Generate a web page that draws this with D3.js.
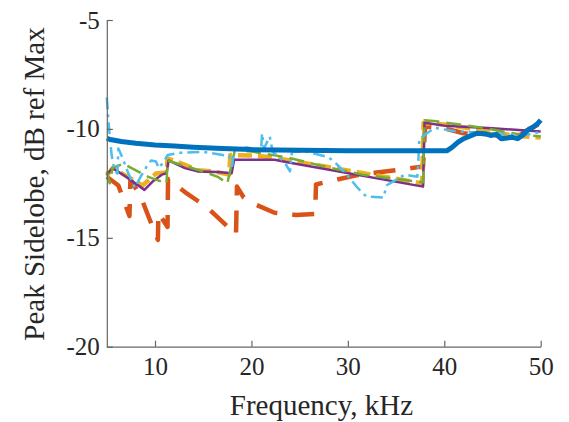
<!DOCTYPE html>
<html>
<head>
<meta charset="utf-8">
<script src="https://cdn.jsdelivr.net/npm/d3@7"></script>
<style>
  body { margin: 0; background: #fff; }
</style>
</head>
<body>
<svg width="569" height="422"></svg>
<script>
const svg = d3.select('svg')
const serif = "'Liberation Serif', 'Times New Roman', Times, 'DejaVu Serif', serif"

// tick values
const xTicks = [10, 20, 30, 40, 50]
const yTicks = [-5, -10, -15, -20]

// series: [frequency kHz, peak sidelobe dB]
const blueData = [[5,-10.43],[5.5,-10.5],[6.5,-10.58],[8,-10.66],[10,-10.74],[12,-10.79],[14,-10.84],[17,-10.9],[20,-10.95],[25,-10.98],[30,-11.0],[40.3,-11.0],[40.8,-10.85],[41.4,-10.62],[42,-10.45],[42.7,-10.32],[43.4,-10.2],[44.2,-10.22],[44.8,-10.3],[45.4,-10.25],[45.9,-10.45],[46.5,-10.42],[47,-10.38],[47.6,-10.45],[48.1,-10.3],[48.6,-10.08],[49.2,-9.92],[49.7,-9.75],[50,-9.6]]
const orangeData = [[5,-12.2],[6.2,-12.6],[7.35,-14.0],[7.45,-12.3],[8.6,-13.2],[9.3,-14.0],[10.3,-15.1],[10.35,-13.85],[11.3,-14.5],[11.35,-12.3],[13.1,-12.9],[15.4,-13.6],[18.4,-14.85],[18.5,-12.65],[19.2,-13.15],[20.3,-13.45],[22.4,-13.85],[24.6,-13.95],[26.6,-13.9],[26.7,-12.55],[28.3,-12.38],[31,-12.12],[33,-12.0],[35,-11.9],[37.8,-11.72],[38.0,-9.9],[39.8,-9.95],[42,-10.2],[44.5,-10.25],[46.5,-10.35],[47.8,-10.3],[48.8,-10.0],[50,-9.75]]
const yellowData = [[5,-12.15],[5.7,-11.75],[6.4,-12.0],[8.7,-12.6],[10.1,-12.05],[11.2,-12.0],[11.3,-11.35],[13.1,-11.65],[14.5,-11.9],[16,-11.95],[17.7,-12.1],[17.8,-11.2],[20,-11.22],[22,-11.3],[24,-11.45],[37.7,-12.5],[37.85,-9.72],[40,-9.8],[44.5,-10.1],[47,-10.3],[50,-10.4]]
const purpleData = [[5,-12.1],[5.6,-11.8],[7,-12.2],[8.9,-12.8],[9.8,-12.4],[10.7,-12.1],[11.2,-12.04],[11.4,-11.45],[13.1,-11.8],[14.5,-11.96],[16.5,-11.98],[17.95,-12.04],[18.2,-11.42],[22.4,-11.42],[24,-11.55],[37.8,-12.65],[37.95,-9.72],[40,-9.85],[45,-9.97],[50,-10.12]]
const greenData = [[5,-11.95],[5.3,-12.5],[5.6,-11.8],[6.7,-11.6],[9.3,-12.2],[11.2,-12.5],[11.3,-11.45],[15.3,-12.0],[16.5,-12.2],[17.5,-12.5],[18.3,-10.95],[20.2,-11.05],[23.6,-11.3],[27.8,-11.75],[31.5,-12.1],[37.8,-12.45],[37.95,-9.6],[39.2,-9.65],[44,-9.95],[48.2,-10.28],[50,-10.35]]
const cyanData = [[5,-8.55],[5.15,-9.5],[5.3,-10.3],[5.5,-11.2],[5.8,-11.9],[6.1,-12.05],[6.2,-10.9],[6.6,-11.3],[7.2,-12.0],[7.9,-12.7],[8.5,-12.2],[9.1,-11.75],[9.6,-11.45],[10.1,-11.5],[10.4,-11.8],[10.9,-11.5],[11.3,-11.2],[12.5,-11.1],[15,-11.05],[17.7,-11.25],[18.0,-11.7],[18.2,-11.0],[19.5,-10.85],[21.0,-11.0],[21.1,-10.2],[21.3,-10.9],[21.9,-10.35],[22.2,-11.05],[23.4,-11.5],[24.0,-11.95],[24.2,-11.05],[25.8,-11.05],[28,-11.3],[28.8,-11.6],[29.7,-12.0],[31,-12.7],[31.9,-13.1],[33.7,-13.15],[34,-12.6],[35.9,-12.1],[37.2,-12.2],[37.3,-11.6],[37.4,-10.5],[38.2,-10.2],[39,-9.95],[41,-10.1],[45,-10.2],[48,-10.3],[50,-10.15]]

const series = [
  { data: orangeData, color: '#D95319', width: 4.5, dash: '22,15' },
  { data: yellowData, color: '#EDB120', width: 4.5, dash: '14,6' },
  { data: purpleData, color: '#7E2F8E', width: 2.5, dash: null },
  { data: greenData, color: '#77AC30', width: 2.5, dash: '15,7' },
  { data: cyanData, color: '#4DBEEE', width: 2.5, dash: '12,5,3,5' },
  { data: blueData, color: '#0072BD', width: 5, dash: null }
]

const x = d3.scaleLinear().domain([5, 50]).range([106.8, 540.7])
const y = d3.scaleLinear().domain([-20, -5]).range([346.7, 20])

const line = d3.line().x(d => x(d[0])).y(d => y(d[1]))

svg.append('g')
  .selectAll('path')
  .data(series)
  .enter()
  .append('path')
    .attr('d', d => line(d.data))
    .attr('fill', 'none')
    .attr('stroke', d => d.color)
    .attr('stroke-width', d => d.width)
    .attr('stroke-dasharray', d => d.dash)
    .attr('stroke-linejoin', 'round')

const xAxis = svg.append('g')
  .attr('transform', `translate(0,${y(-20)})`)
  .call(d3.axisBottom(x).tickValues(xTicks).tickFormat(d => String(d))
    .tickSizeInner(-6).tickSizeOuter(0).tickPadding(11))

const yAxis = svg.append('g')
  .attr('transform', `translate(${x(5)},0)`)
  .call(d3.axisLeft(y).tickValues(yTicks).tickFormat(d => String(d))
    .tickSizeInner(-6).tickSizeOuter(0).tickPadding(7))

svg.selectAll('.domain, .tick line').attr('stroke', '#666').attr('stroke-width', 1.2)
svg.selectAll('.tick text')
  .attr('fill', '#262626')
  .attr('font-family', serif)
  .attr('font-size', 25)

svg.append('text')
  .attr('x', 321.5).attr('y', 415)
  .attr('text-anchor', 'middle')
  .attr('font-family', serif)
  .attr('font-size', 29)
  .attr('fill', '#262626')
  .text('Frequency, kHz')

svg.append('text')
  .attr('transform', 'translate(44,184) rotate(-90)')
  .attr('text-anchor', 'middle')
  .attr('font-family', serif)
  .attr('font-size', 29)
  .attr('fill', '#262626')
  .text('Peak Sidelobe, dB ref Max')
</script>
</body>
</html>
